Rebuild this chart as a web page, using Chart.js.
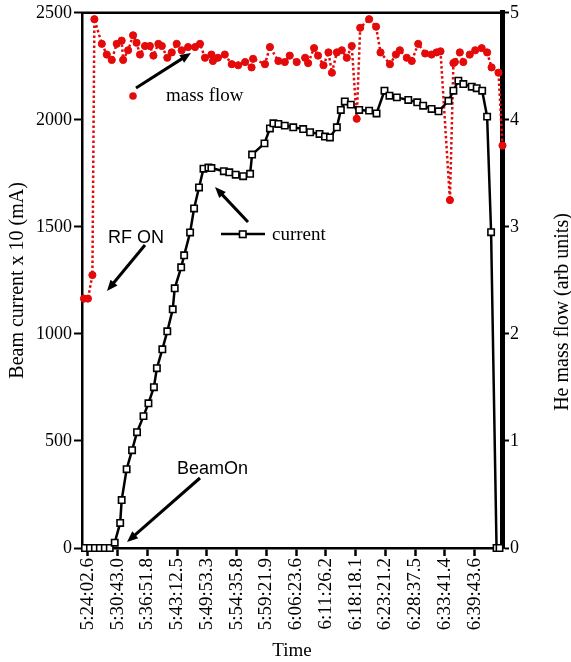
<!DOCTYPE html>
<html>
<head>
<meta charset="utf-8">
<script src="https://cdn.jsdelivr.net/npm/chart.js@4.4.1/dist/chart.umd.min.js"></script>
<style>
  html, body { margin: 0; padding: 0; background: #ffffff; }
  canvas { display: block; }
</style>
</head>
<body>
<canvas id="chart" width="571" height="662"></canvas>
<script>
// tick labels on the time axis, one every 6 samples
const timeLabels = ['5:24:02.6', '5:30:43.0', '5:36:51.8', '5:43:12.5', '5:49:53.3', '5:54:35.8',
  '5:59:21.9', '6:06:23.6', '6:11:26.2', '6:18:18.1', '6:23:21.2', '6:28:37.5', '6:33:41.4', '6:39:43.6'];
const labelStep = 6;

// beam current x 10 (mA), sample position along the time axis
const currentX = [-0.6, 0.4, 1.4, 2.4, 3.4, 4.4, 5.4, 6.5, 6.8, 7.8, 8.9, 9.9, 11.2, 12.2, 13.3, 13.9,
  15.0, 16.0, 17.1, 17.5, 18.8, 19.4, 20.6, 21.4, 22.4, 23.3, 24.3, 24.9, 27.4, 28.5, 29.8, 31.3,
  32.7, 33.1, 35.6, 36.7, 37.4, 38.4, 39.7, 41.4, 43.4, 44.8, 46.7, 47.8, 48.8, 50.2, 51.0, 51.8,
  53.0, 54.7, 56.7, 58.2, 59.8, 60.8, 62.3, 64.6, 66.4, 67.6, 69.3, 70.7, 72.7, 73.7, 74.7, 75.7,
  77.4, 78.4, 79.5, 80.5, 81.3, 82.4, 83.0];
const currentY = [0, 0, 0, 0, 0, 0, 25, 117, 224, 368, 457, 541, 616, 676, 751, 840,
  928, 1012, 1115, 1213, 1311, 1367, 1474, 1586, 1684, 1772, 1777, 1775, 1760, 1755, 1744, 1737,
  1748, 1838, 1890, 1960, 1984, 1981, 1973, 1965, 1957, 1942, 1934, 1922, 1918, 1965, 2046, 2086,
  2071, 2046, 2043, 2030, 2136, 2113, 2105, 2093, 2082, 2066, 2051, 2040, 2089, 2136, 2183, 2167,
  2155, 2148, 2136, 2015, 1475, 0, 0];

// He mass flow (arb units)
const flowX = [-0.8, 0, 0.9, 1.3, 2.8, 3.8, 4.8, 5.8, 6.8, 7.1, 8.1, 9.1, 9.8, 10.5, 11.5, 12.5,
  13.2, 14.2, 14.9, 16.0, 16.9, 17.9, 18.9, 20.2, 21.6, 22.6, 23.6, 24.9, 25.2, 26.2, 27.6, 29.0,
  30.3, 31.7, 33.0, 33.3, 35.7, 36.7, 38.4, 39.7, 40.7, 42.1, 43.8, 44.4, 45.6, 46.4, 47.5, 48.5,
  49.2, 50.2, 51.2, 52.2, 53.2, 54.2, 54.9, 56.7, 58.1, 59.0, 60.9, 62.1, 62.9, 64.3, 65.3, 66.6,
  68.0, 69.3, 70.3, 71.1, 73.0, 73.7, 74.0, 75.0, 75.7, 77.0, 78.1, 79.4, 80.5, 81.4, 82.8, 83.6];
const flowY = [2.33, 2.33, 2.55, 4.94, 4.71, 4.61, 4.56, 4.71, 4.74, 4.56, 4.65, 4.79, 4.72, 4.61, 4.69, 4.69,
  4.60, 4.71, 4.69, 4.58, 4.63, 4.71, 4.65, 4.68, 4.68, 4.71, 4.58, 4.61, 4.55, 4.58, 4.61, 4.52,
  4.51, 4.54, 4.49, 4.57, 4.52, 4.68, 4.55, 4.54, 4.60, 4.54, 4.58, 4.53, 4.67, 4.60, 4.51, 4.63,
  4.44, 4.63, 4.65, 4.58, 4.69, 4.01, 4.86, 4.94, 4.87, 4.63, 4.52, 4.61, 4.65, 4.58, 4.55, 4.71,
  4.62, 4.61, 4.63, 4.64, 3.25, 4.53, 4.54, 4.63, 4.54, 4.61, 4.65, 4.67, 4.63, 4.49, 4.44, 3.76];

const RED = 'rgb(228, 10, 10)';
const SERIF = "'Liberation Serif', 'Times New Roman', serif";
const SANS = "'Liberation Sans', Arial, sans-serif";

function arrow(ctx, x1, y1, x2, y2) {
  const a = Math.atan2(y2 - y1, x2 - x1);
  const len = 11, w = 4.5;
  ctx.beginPath();
  ctx.moveTo(x1, y1);
  ctx.lineTo(x2 - Math.cos(a) * len * 0.7, y2 - Math.sin(a) * len * 0.7);
  ctx.stroke();
  ctx.beginPath();
  ctx.moveTo(x2, y2);
  ctx.lineTo(x2 - Math.cos(a) * len - Math.sin(a) * w, y2 - Math.sin(a) * len + Math.cos(a) * w);
  ctx.lineTo(x2 - Math.cos(a) * len + Math.sin(a) * w, y2 - Math.sin(a) * len - Math.cos(a) * w);
  ctx.closePath();
  ctx.fill();
}

// top frame line, right axis title and the hand-drawn annotations
const annotations = {
  id: 'annotations',
  afterDraw(chart) {
    const ctx = chart.ctx;
    const area = chart.chartArea;
    ctx.save();
    ctx.strokeStyle = '#000';
    ctx.fillStyle = '#000';
    ctx.lineWidth = 2.5;
    ctx.beginPath();
    ctx.moveTo(area.left - 1, area.top);
    ctx.lineTo(area.right, area.top);
    ctx.stroke();

    // right axis title
    ctx.font = '20px ' + SERIF;
    ctx.textAlign = 'center';
    ctx.textBaseline = 'middle';
    ctx.save();
    ctx.translate(563, 312);
    ctx.rotate(-Math.PI / 2);
    ctx.fillText('He mass flow (arb units)', 0, 0);
    ctx.restore();

    ctx.lineWidth = 3;
    // mass flow
    arrow(ctx, 136, 88, 191, 53);
    ctx.fillStyle = RED;
    ctx.beginPath();
    ctx.arc(133, 96, 3.8, 0, Math.PI * 2);
    ctx.fill();
    ctx.fillStyle = '#000';
    ctx.textAlign = 'left';
    ctx.font = '19px ' + SERIF;
    ctx.fillText('mass flow', 166, 96);

    // current
    arrow(ctx, 248, 222, 215, 187);
    ctx.lineWidth = 2.5;
    ctx.beginPath();
    ctx.moveTo(221, 234);
    ctx.lineTo(265, 234);
    ctx.stroke();
    ctx.fillStyle = '#fff';
    ctx.lineWidth = 1.6;
    ctx.fillRect(239.5, 231, 6.5, 6.5);
    ctx.strokeRect(239.5, 231, 6.5, 6.5);
    ctx.fillStyle = '#000';
    ctx.fillText('current', 272, 235);

    // RF ON
    ctx.lineWidth = 3;
    arrow(ctx, 145, 245, 107, 291);
    ctx.font = '18px ' + SANS;
    ctx.fillText('RF ON', 108, 238);

    // BeamOn
    arrow(ctx, 200, 478, 127, 542);
    ctx.fillText('BeamOn', 177, 469);
    ctx.restore();
  }
};

new Chart(document.getElementById('chart').getContext('2d'), {
  type: 'line',
  data: {
    datasets: [
      {
        label: 'current',
        data: currentX.map((x, i) => ({ x, y: currentY[i] })),
        yAxisID: 'y',
        borderColor: '#000',
        borderWidth: 2.5,
        pointStyle: 'rect',
        pointRadius: 4.5,
        pointBorderWidth: 1.6,
        pointBackgroundColor: '#fff',
        pointBorderColor: '#000',
        tension: 0,
        clip: false
      },
      {
        label: 'mass flow',
        data: flowX.map((x, i) => ({ x, y: flowY[i] })),
        yAxisID: 'y1',
        borderColor: RED,
        borderWidth: 2.5,
        borderDash: [2.5, 2.5],
        pointStyle: 'circle',
        pointRadius: 3.6,
        pointBorderWidth: 1,
        pointBackgroundColor: RED,
        pointBorderColor: RED,
        tension: 0,
        clip: false
      }
    ]
  },
  options: {
    responsive: false,
    devicePixelRatio: 1,
    animation: false,
    layout: { padding: { top: 12, left: 0, right: 0, bottom: 0 } },
    plugins: { legend: { display: false }, tooltip: { enabled: false } },
    scales: {
      x: {
        type: 'linear',
        min: -1.2,
        max: 83.5,
        afterBuildTicks: scale => {
          scale.ticks = timeLabels.map((_, i) => ({ value: i * labelStep }));
        },
        afterFit: scale => { scale.height = 114; },
        ticks: {
          autoSkip: false,
          minRotation: 90,
          maxRotation: 90,
          padding: 2,
          color: '#000',
          font: { family: SERIF, size: 19 },
          callback: v => timeLabels[Math.round(v / labelStep)]
        },
        grid: { drawOnChartArea: false, color: '#000', tickLength: 8, tickWidth: 2.5 },
        border: { color: '#000', width: 2.5 },
        title: {
          display: true,
          text: 'Time',
          color: '#000',
          padding: { top: 0, bottom: 0 },
          font: { family: SERIF, size: 19 }
        }
      },
      y: {
        position: 'left',
        min: 0,
        max: 2500,
        afterFit: scale => { scale.width = 82; },
        ticks: {
          stepSize: 500,
          padding: 2,
          color: '#000',
          font: { family: SERIF, size: 18 },
          callback: v => String(v)
        },
        grid: { drawOnChartArea: false, color: '#000', tickLength: 8, tickWidth: 2 },
        border: { color: '#000', width: 2.5 },
        title: {
          display: true,
          text: 'Beam current x 10 (mA)',
          color: '#000',
          padding: { top: 6, bottom: 0 },
          font: { family: SERIF, size: 20 }
        }
      },
      y1: {
        position: 'right',
        min: 0,
        max: 5,
        afterFit: scale => { scale.width = 69; },
        ticks: {
          stepSize: 1,
          padding: 1,
          color: '#000',
          font: { family: SERIF, size: 18 },
          callback: v => String(v)
        },
        grid: { drawOnChartArea: false, color: '#000', tickLength: 7, tickWidth: 2 },
        border: { color: '#000', width: 5 }
      }
    }
  },
  plugins: [annotations]
});
</script>
</body>
</html>
